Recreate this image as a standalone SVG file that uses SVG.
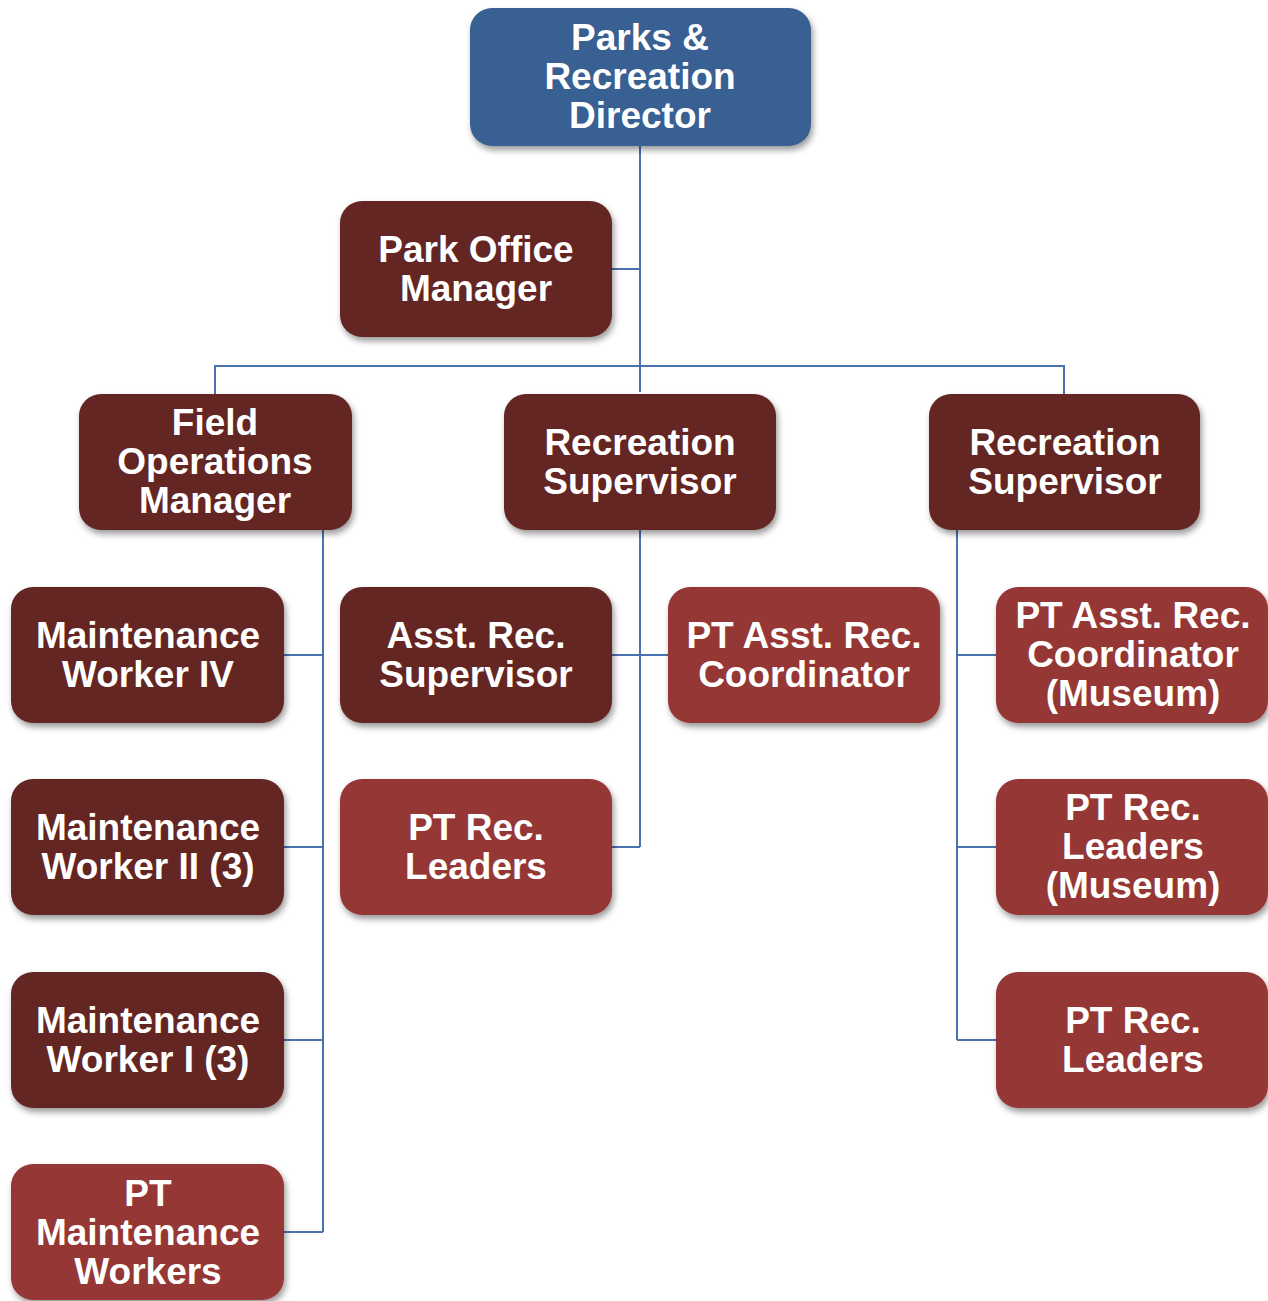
<svg xmlns="http://www.w3.org/2000/svg" width="1268" height="1301" viewBox="0 0 1268 1301">
<style>
.blue{fill:#376092}
.dark{fill:#632523}
.red{fill:#953735}
.box{filter:url(#sh)}
text{font-family:"Liberation Sans",Arial,sans-serif;font-weight:bold;font-size:37px;fill:#fff;text-anchor:middle}
.conn{stroke:#4a72b0;stroke-width:2;fill:none}
</style>
<defs>
<filter id="sh" x="-10%" y="-10%" width="125%" height="130%">
<feDropShadow dx="2" dy="4" stdDeviation="3" flood-color="#000" flood-opacity="0.4"/>
</filter>
</defs>
<g id="connectors">
<path class="conn" d="M640 146V392M612 269H640M215 394V366H1064V394"/>
<path class="conn" d="M323 530V1232M284 655H323M284 847H323M284 1040H323M284 1232H323"/>
<path class="conn" d="M640 530V847M612 655H668M612 847H640"/>
<path class="conn" d="M957 530V1040M957 655H996M957 847H996M957 1040H996"/>
</g>
<g id="director"><rect class="box blue" x="470" y="8" width="341" height="138" rx="22"/>
<text x="640"><tspan x="640" y="50">Parks &amp;</tspan><tspan x="640" y="89">Recreation</tspan><tspan x="640" y="128">Director</tspan></text></g>
<g id="park-office-manager"><rect class="box dark" x="340" y="201" width="272" height="136" rx="22"/>
<text><tspan x="476" y="262">Park Office</tspan><tspan x="476" y="301">Manager</tspan></text></g>
<g id="field-ops"><rect class="box dark" x="79" y="394" width="273" height="136" rx="22"/>
<text><tspan x="215" y="435">Field</tspan><tspan x="215" y="474">Operations</tspan><tspan x="215" y="513">Manager</tspan></text></g>
<g id="rec-sup-1"><rect class="box dark" x="504" y="394" width="272" height="136" rx="22"/>
<text><tspan x="640" y="455">Recreation</tspan><tspan x="640" y="494">Supervisor</tspan></text></g>
<g id="rec-sup-2"><rect class="box dark" x="929" y="394" width="271" height="136" rx="22"/>
<text><tspan x="1065" y="455">Recreation</tspan><tspan x="1065" y="494">Supervisor</tspan></text></g>
<g id="mw4"><rect class="box dark" x="11" y="587" width="273" height="136" rx="22"/>
<text><tspan x="148" y="648">Maintenance</tspan><tspan x="148" y="687">Worker IV</tspan></text></g>
<g id="mw2"><rect class="box dark" x="11" y="779" width="273" height="136" rx="22"/>
<text><tspan x="148" y="840">Maintenance</tspan><tspan x="148" y="879">Worker II (3)</tspan></text></g>
<g id="mw1"><rect class="box dark" x="11" y="972" width="273" height="136" rx="22"/>
<text><tspan x="148" y="1033">Maintenance</tspan><tspan x="148" y="1072">Worker I (3)</tspan></text></g>
<g id="pt-maint"><rect class="box red" x="11" y="1164" width="273" height="136" rx="22"/>
<text><tspan x="148" y="1206">PT</tspan><tspan x="148" y="1245">Maintenance</tspan><tspan x="148" y="1284">Workers</tspan></text></g>
<g id="asst-rec-sup"><rect class="box dark" x="340" y="587" width="272" height="136" rx="22"/>
<text><tspan x="476" y="648">Asst. Rec.</tspan><tspan x="476" y="687">Supervisor</tspan></text></g>
<g id="pt-rec-leaders-1"><rect class="box red" x="340" y="779" width="272" height="136" rx="22"/>
<text><tspan x="476" y="840">PT Rec.</tspan><tspan x="476" y="879">Leaders</tspan></text></g>
<g id="pt-asst-coord"><rect class="box red" x="668" y="587" width="272" height="136" rx="22"/>
<text><tspan x="804" y="648">PT Asst. Rec.</tspan><tspan x="804" y="687">Coordinator</tspan></text></g>
<g id="pt-asst-coord-museum"><rect class="box red" x="996" y="587" width="272" height="136" rx="22"/>
<text><tspan x="1133" y="628">PT Asst. Rec.</tspan><tspan x="1133" y="667">Coordinator</tspan><tspan x="1133" y="706">(Museum)</tspan></text></g>
<g id="pt-rec-leaders-museum"><rect class="box red" x="996" y="779" width="272" height="136" rx="22"/>
<text><tspan x="1133" y="820">PT Rec.</tspan><tspan x="1133" y="859">Leaders</tspan><tspan x="1133" y="898">(Museum)</tspan></text></g>
<g id="pt-rec-leaders-2"><rect class="box red" x="996" y="972" width="272" height="136" rx="22"/>
<text><tspan x="1133" y="1033">PT Rec.</tspan><tspan x="1133" y="1072">Leaders</tspan></text></g>
</svg>
